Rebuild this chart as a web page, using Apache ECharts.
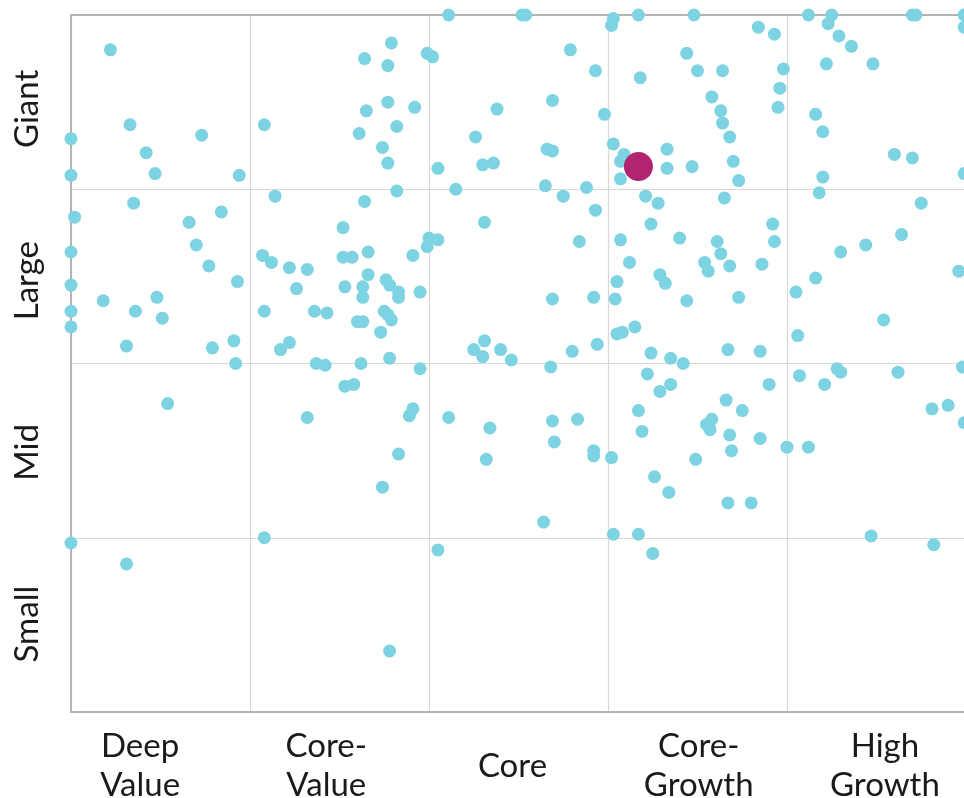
<!DOCTYPE html>
<html><head><meta charset="utf-8">
<script src="https://cdn.jsdelivr.net/npm/echarts/dist/echarts.min.js"></script>
<style>html,body{margin:0;padding:0;background:#fff;overflow:hidden}#chart{width:964px;height:798px}</style>
</head><body><div id="chart"></div>
<script>
// Style box columns (x) and size rows (y, bottom to top)
const styleCategories = ['Deep\nValue', 'Core-\nValue', 'Core', 'Core-\nGrowth', 'High\nGrowth'];
const sizeCategories = ['Small', 'Mid', 'Large', 'Giant'];

// Peer funds: [style score 0-5, size score 0-4]
const deepValuePeers = [
[0.22,3.80],[0.33,3.37],[0.00,3.29],[0.73,3.31],[0.42,3.21],[0.00,3.08],[0.47,3.09],[0.94,3.08],[0.35,2.92],[0.02,2.84],
[0.84,2.87],[0.66,2.81],[0.70,2.68],[0.77,2.56],[0.93,2.47],[0.00,2.64],[0.00,2.45],[0.18,2.36],[0.36,2.30],[0.48,2.38],
[0.51,2.26],[0.00,2.30],[0.00,2.21],[0.31,2.10],[0.79,2.09],[0.91,2.13],[0.92,2.00],[0.54,1.77],[0.00,0.97],[0.31,0.85]
];
const coreValuePeers = [
[1.08,3.37],[1.14,2.96],[1.64,3.75],[1.65,3.45],[1.61,3.32],[1.64,2.93],[1.52,2.78],[1.79,3.84],[1.77,3.71],[1.99,3.78],
[2.02,3.76],[1.77,3.50],[1.92,3.47],[1.82,3.36],[1.74,3.24],[1.77,3.15],[1.82,2.99],[1.07,2.62],[1.12,2.58],[1.22,2.55],
[1.32,2.54],[1.26,2.43],[1.08,2.30],[1.36,2.30],[1.43,2.29],[1.17,2.08],[1.22,2.12],[1.37,2.00],[1.42,1.99],[1.62,2.00],
[1.53,1.87],[1.58,1.88],[1.32,1.69],[1.52,2.61],[1.57,2.61],[1.66,2.64],[1.66,2.51],[1.53,2.44],[1.63,2.44],[1.63,2.38],
[1.60,2.24],[1.63,2.24],[1.91,2.62],[1.99,2.67],[1.76,2.48],[1.78,2.45],[1.83,2.41],[1.83,2.38],[1.95,2.41],[1.75,2.30],
[1.79,2.25],[1.77,2.28],[1.73,2.18],[1.78,2.03],[1.95,1.97],[1.91,1.74],[1.89,1.70],[1.83,1.48],[1.74,1.29],[1.78,0.35],
[1.08,1.00]
];
const corePeers = [
[2.05,3.12],[2.11,4.00],[2.52,4.00],[2.54,4.00],[2.79,3.80],[2.93,3.68],[2.38,3.46],[2.69,3.51],[2.98,3.43],[2.26,3.30],
[2.30,3.14],[2.36,3.15],[2.66,3.23],[2.69,3.22],[2.15,3.00],[2.65,3.02],[2.75,2.96],[2.88,3.01],[2.93,2.88],[2.31,2.81],
[2.00,2.72],[2.05,2.71],[2.84,2.70],[2.69,2.37],[2.92,2.38],[2.94,2.11],[2.31,2.13],[2.25,2.08],[2.30,2.04],[2.40,2.08],
[2.46,2.02],[2.68,1.98],[2.80,2.07],[2.11,1.69],[2.34,1.63],[2.32,1.45],[2.69,1.67],[2.83,1.68],[2.70,1.55],[2.92,1.50],
[2.92,1.47],[2.64,1.09],[2.05,0.93]
];
const coreGrowthPeers = [
[3.03,3.98],[3.02,3.94],[3.17,4.00],[3.48,4.00],[3.18,3.64],[3.44,3.78],[3.50,3.68],[3.64,3.68],[3.58,3.53],[3.63,3.45],
[3.64,3.38],[3.68,3.30],[3.03,3.26],[3.09,3.20],[3.07,3.16],[3.07,3.06],[3.33,3.23],[3.33,3.12],[3.47,3.13],[3.70,3.16],
[3.73,3.05],[3.84,3.93],[3.93,3.89],[3.98,3.69],[3.96,3.58],[3.95,3.47],[3.21,2.96],[3.28,2.92],[3.24,2.80],[3.07,2.71],
[3.65,2.95],[3.92,2.80],[3.40,2.72],[3.61,2.70],[3.93,2.70],[3.04,2.37],[3.05,2.47],[3.12,2.58],[3.05,2.17],[3.08,2.18],
[3.15,2.21],[3.24,2.06],[3.29,2.51],[3.32,2.46],[3.35,2.03],[3.22,1.94],[3.29,1.84],[3.35,1.88],[3.17,1.73],[3.19,1.61],
[3.02,1.46],[3.26,1.35],[3.63,2.63],[3.54,2.58],[3.56,2.53],[3.68,2.56],[3.86,2.57],[3.44,2.36],[3.73,2.38],[3.67,2.08],
[3.85,2.07],[3.42,2.00],[3.90,1.88],[3.66,1.79],[3.75,1.73],[3.55,1.65],[3.58,1.68],[3.57,1.62],[3.68,1.59],[3.85,1.57],
[3.69,1.50],[3.49,1.45],[4.00,1.52],[3.34,1.26],[3.67,1.20],[3.80,1.20],[3.03,1.02],[3.17,1.02],[3.25,0.91]
];
const highGrowthPeers = [
[4.12,4.00],[4.25,4.00],[4.23,3.95],[4.70,4.00],[4.72,4.00],[4.99,4.00],[4.99,3.93],[4.29,3.88],[4.36,3.82],[4.22,3.72],
[4.48,3.72],[4.16,3.43],[4.20,3.33],[4.60,3.20],[4.70,3.18],[4.20,3.07],[4.18,2.98],[4.99,3.09],[4.75,2.92],[4.64,2.74],
[4.44,2.68],[4.30,2.64],[4.16,2.49],[4.05,2.41],[4.54,2.25],[4.06,2.16],[4.96,2.53],[4.07,1.93],[4.21,1.88],[4.28,1.97],
[4.30,1.95],[4.62,1.95],[4.98,1.98],[4.81,1.74],[4.90,1.76],[4.99,1.66],[4.12,1.52],[4.47,1.01],[4.82,0.96]
];
// The highlighted fund
const highlightFund = [[3.17,3.13]];

const peerPoints = [].concat(deepValuePeers, coreValuePeers, corePeers, coreGrowthPeers, highGrowthPeers);

const axisGray = '#b8b3ae';
const gridGray = '#dcd7d2';
const textColor = '#1a1a1a';
const font = 'Lato, "Open Sans", sans-serif';

const chart = echarts.init(document.getElementById('chart'), null, {renderer: 'canvas'});
chart.setOption({
  animation: false,
  backgroundColor: '#ffffff',
  grid: [
    {left: 71, top: 15, width: 895, height: 697, containLabel: false, outerBoundsMode: 'none'},
    {left: 47, top: 23, width: 931, height: 687, containLabel: false, outerBoundsMode: 'none'}
  ],
  xAxis: [
    {gridIndex: 0, type: 'value', min: 0, max: 5, interval: 1,
      axisLine: {show: true, onZero: false, lineStyle: {color: axisGray, width: 2}},
      axisTick: {show: false}, axisLabel: {show: false},
      splitLine: {show: true, lineStyle: {color: gridGray, width: 1.2}}},
    {gridIndex: 0, type: 'value', position: 'top', min: 0, max: 5, interval: 1,
      axisLine: {show: true, onZero: false, lineStyle: {color: axisGray, width: 2}},
      axisTick: {show: false}, axisLabel: {show: false}, splitLine: {show: false}},
    {gridIndex: 1, type: 'category', data: styleCategories,
      axisLine: {show: false}, axisTick: {show: false}, splitLine: {show: false},
      axisLabel: {interval: 0, margin: 56, verticalAlign: 'middle', align: 'center',
        fontFamily: font, fontSize: 33, lineHeight: 39, color: textColor}}
  ],
  yAxis: [
    {gridIndex: 0, type: 'value', min: 0, max: 4, interval: 1,
      axisLine: {show: true, onZero: false, lineStyle: {color: axisGray, width: 2}},
      axisTick: {show: false}, axisLabel: {show: false},
      splitLine: {show: true, lineStyle: {color: gridGray, width: 1.2}}},
    {gridIndex: 1, type: 'category', data: sizeCategories,
      axisLine: {show: false}, axisTick: {show: false}, splitLine: {show: false},
      axisLabel: {interval: 0, rotate: 90, margin: 3,
        fontFamily: font, fontSize: 33, color: textColor}}
  ],
  series: [
    {type: 'scatter', xAxisIndex: 0, yAxisIndex: 0, data: peerPoints, symbolSize: 13, clip: false,
      itemStyle: {color: '#7dd3e2', opacity: 1}, emphasis: {disabled: true}},
    {type: 'scatter', xAxisIndex: 0, yAxisIndex: 0, data: highlightFund, symbolSize: 29, clip: false, z: 5,
      itemStyle: {color: '#b02470', opacity: 1}, emphasis: {disabled: true}}
  ]
});
</script>
</body></html>
